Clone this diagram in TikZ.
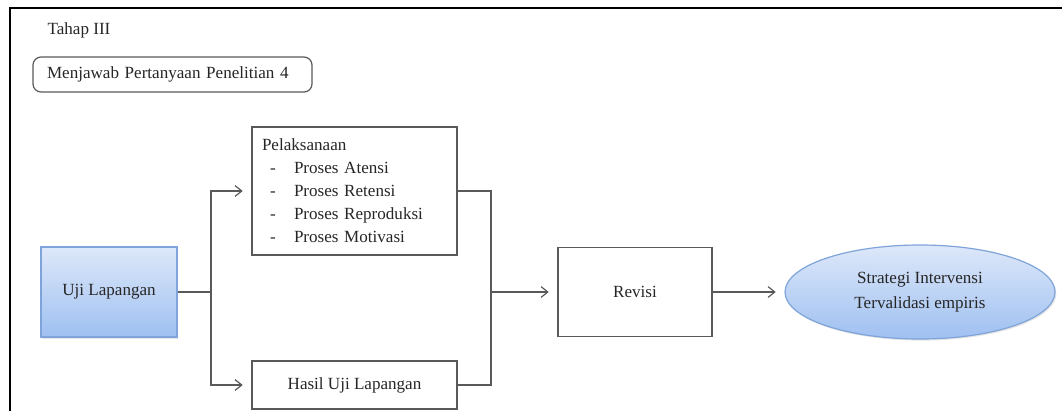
\documentclass[tikz,border=0pt]{standalone}
\usepackage{fontspec}
\setmainfont{Liberation Serif}
\usetikzlibrary{arrows.meta, shapes.geometric, shadows}
\definecolor{cline}{HTML}{595959}
\definecolor{ctext}{HTML}{262626}
\definecolor{cblueline}{HTML}{7FA4D9}
\definecolor{cbluetop}{HTML}{DDE8F9}
\definecolor{cbluebot}{HTML}{9FC0F1}
\tikzset{
  every picture/.style={font=\fontsize{12.8}{17.25}\selectfont, line width=0.9pt},
  box/.style={draw=cline, rectangle, align=center, text=ctext, inner sep=0pt},
  bluebox/.style={draw=cblueline, top color=cbluetop, bottom color=cbluebot, align=center, text=ctext,
    drop shadow={opacity=0.2, shadow xshift=1pt, shadow yshift=-1.2pt}},
  arrow/.style={-{Straight Barb[length=5pt, width=8pt]}, draw=cline, shorten >=6.5pt},
  link/.style={draw=cline},
  frame/.style={draw=black, line width=2pt},
  note/.style={text=ctext, inner sep=0pt},
}
\newcommand{\itemline}[1]{\makebox[24pt][l]{\hspace{6pt}-}#1}

\begin{document}
\begin{tikzpicture}[x=0.75pt, y=-0.75pt]
  \useasboundingbox (0,0) rectangle (1062,410);
  \draw[frame] (10,412) -- (10,8) -- (1064,8);
  \node[note, anchor=west] (tahap) at (47,30) {Tahap III};
  \node[box, rounded corners=6pt, align=left, inner xsep=10.5pt, text width=188.25pt, minimum height=26.25pt] (tanya) at (172.5,74.5) {Menjawab Pertanyaan Penelitian 4};
  \node[bluebox, minimum width=102pt, minimum height=67.5pt] (uji) at (109,292) {Uji Lapangan};
  \node[box, align=left, inner xsep=7.5pt, text width=138.75pt, minimum height=96pt] (pel) at (354.5,191)
    {Pelaksanaan\\ \itemline{Proses Atensi}\\ \itemline{Proses Retensi}\\ \itemline{Proses Reproduksi}\\ \itemline{Proses Motivasi}};
  \node[box, minimum width=153.75pt, minimum height=36pt] (hasil) at (354.5,385) {Hasil Uji Lapangan};
  \node[box, minimum width=115.5pt, minimum height=66.75pt] (revisi) at (635,292) {Revisi};
  \node[bluebox, ellipse, minimum width=202.5pt, minimum height=70.5pt, font=\fontsize{12.8}{18.5}\selectfont] (strategi) at (920,292)
    {Strategi Intervensi\\ Tervalidasi empiris};
  \coordinate (split) at (211,292);
  \coordinate (merge) at (491,292);
  \draw[link] (uji.east) -- (split);
  \draw[arrow] (split) |- (pel.west);
  \draw[arrow] (split) |- (hasil.west);
  \draw[link] (pel.east) -| (merge);
  \draw[link] (hasil.east) -| (merge);
  \draw[arrow] (merge) -- (revisi.west);
  \draw[arrow] (revisi.east) -- (strategi.west);
\end{tikzpicture}
\end{document}
